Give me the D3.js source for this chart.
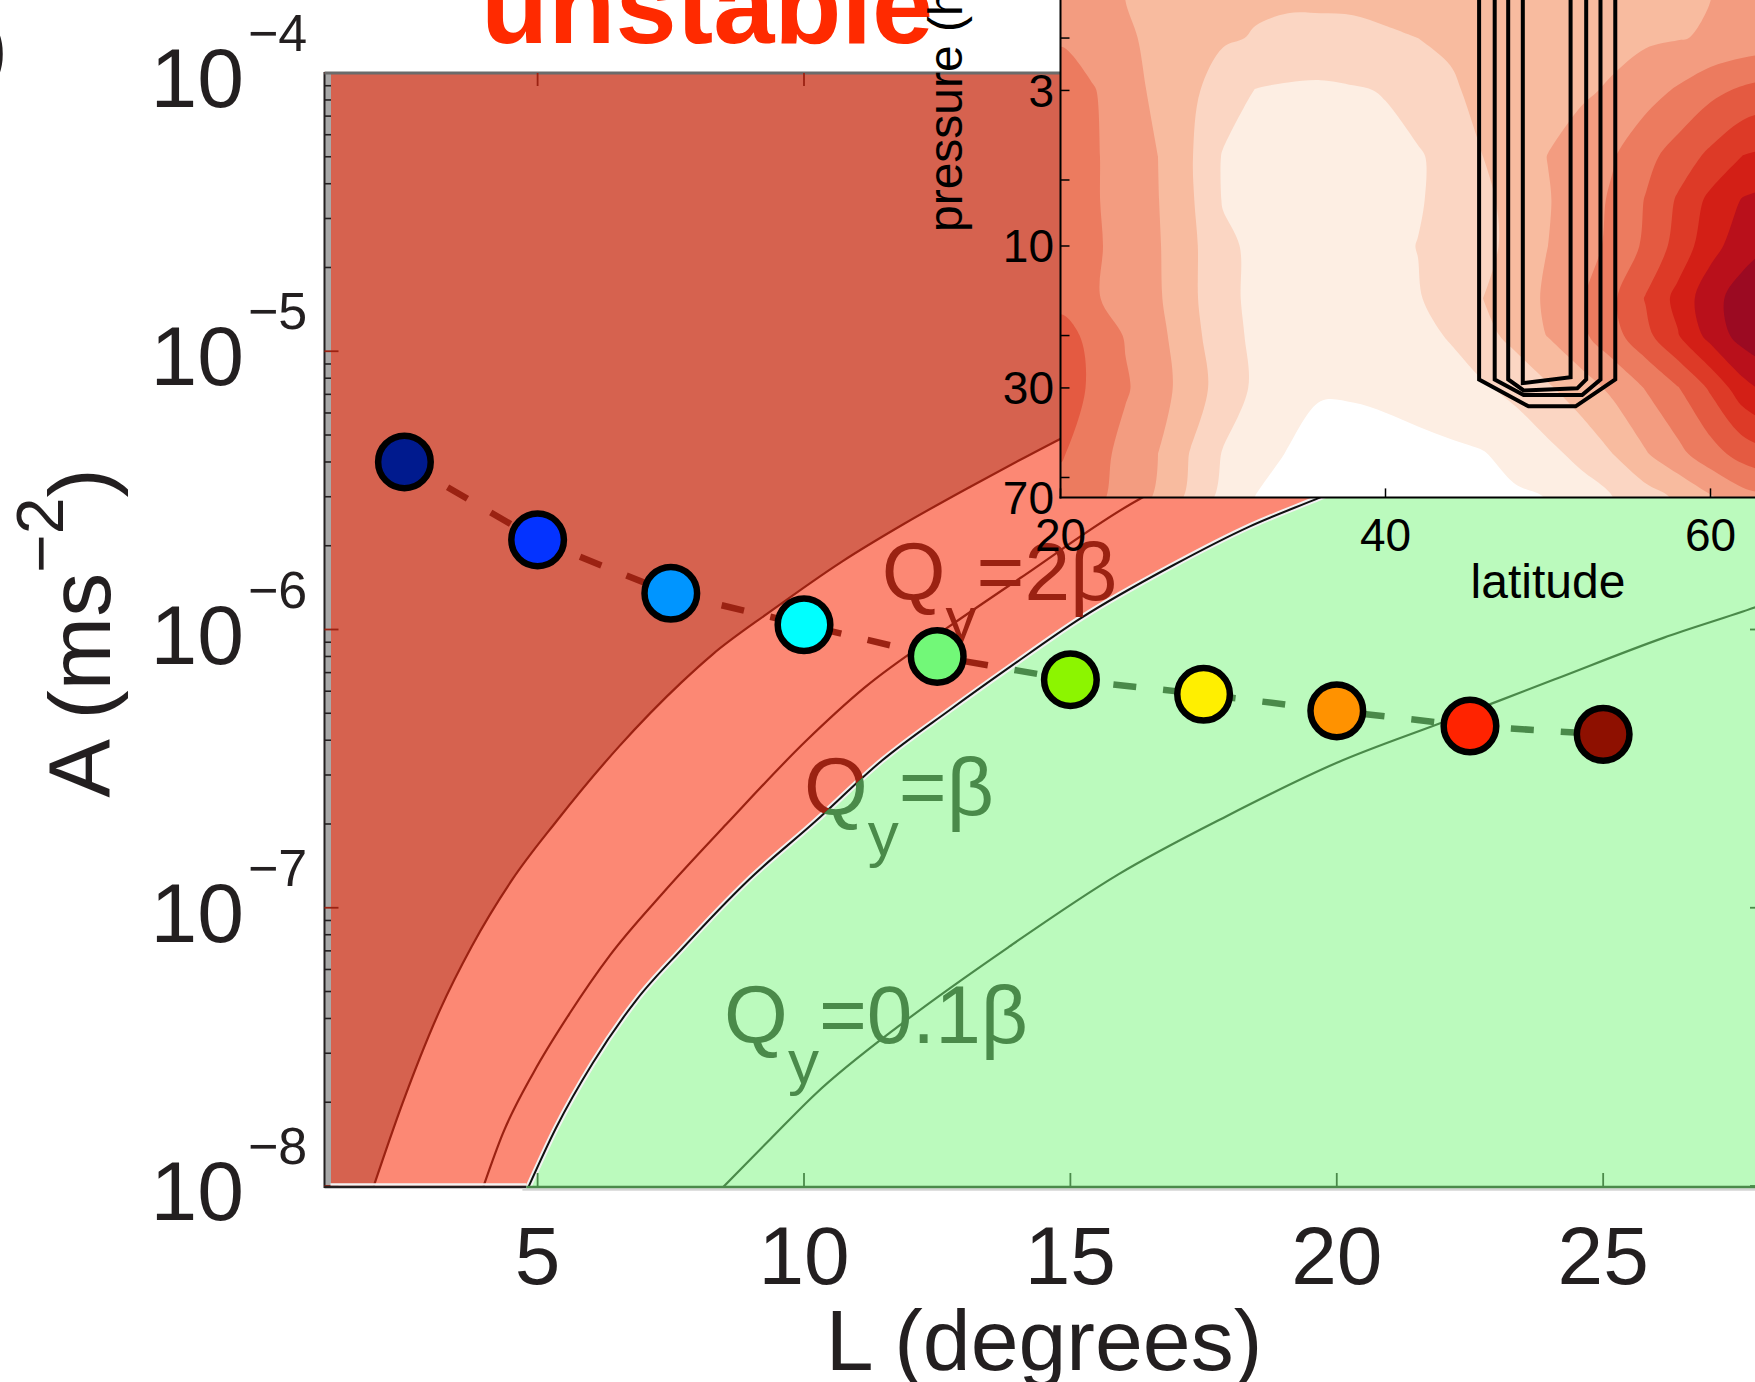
<!DOCTYPE html>
<html>
<head>
<meta charset="utf-8">
<script src="https://cdn.jsdelivr.net/npm/d3@7"></script>
<style>
  html, body { margin: 0; padding: 0; background: #fff; overflow: hidden; }
  text { font-family: "Liberation Sans", Arial, Helvetica, sans-serif; }
</style>
</head>
<body>
<svg id="chart" width="1755" height="1382"></svg>
<script>
// ------------------------------------------------------------------
// Jet experiments: forcing amplitude A versus jet width L
// ------------------------------------------------------------------
const jetWidth   = [2.5, 5, 7.5, 10, 12.5, 15, 17.5, 20, 22.5, 25];                 // L (degrees)
const jetForcing = [4.0e-6, 2.1e-6, 1.35e-6, 1.04e-6, 8.0e-7, 6.6e-7, 5.85e-7, 5.1e-7, 4.5e-7, 4.2e-7]; // A (m s^-2)
const jetColors  = ["#001a8e", "#0433ff", "#0095ff", "#00ffff", "#72f878",
                    "#8cf500", "#ffef00", "#ff9200", "#ff2300", "#8e1000"];

// Contours of the PV gradient in the (L, log10 A) plane
const contourOuter = [[1.89,-8.02],[2.46,-7.705],[3.17,-7.366],[3.76,-7.14],[4.52,-6.90],[5.35,-6.69],
                      [6.53,-6.42],[7.70,-6.19],[8.28,-6.09],[9.37,-5.935],[10.72,-5.755],[11.88,-5.62],
                      [13.14,-5.485],[14.06,-5.39],[14.81,-5.315],[15.5,-5.25]];
const contourTwoBeta = [[3.95,-8.02],[4.35,-7.81],[4.93,-7.59],[5.60,-7.38],[6.36,-7.17],[7.36,-6.945],
                        [8.54,-6.70],[10.04,-6.40],[11.13,-6.21],[12.72,-5.99],[14.06,-5.815],[16.31,-5.53],[17.5,-5.42]];
const contourZero = [[4.79,-8.02],[5.35,-7.79],[6.03,-7.56],[6.86,-7.33],[7.70,-7.15],[8.96,-6.90],
                     [10.21,-6.69],[11.47,-6.47],[12.73,-6.29],[13.90,-6.13],[15.19,-5.96],[16.92,-5.77],
                     [18.36,-5.63],[19.69,-5.525],[21.0,-5.42]];
const contourTenth = [[8.40,-8.02],[9.375,-7.83],[10.21,-7.67],[11.88,-7.41],[13.85,-7.14],[15.90,-6.88],
                      [17.94,-6.67],[19.99,-6.48],[22.04,-6.33],[24.08,-6.18],[26.13,-6.03],[27.86,-5.92],[28.3,-5.89]];

const xTicks = [5, 10, 15, 20, 25];
const yTickExponents = [-4, -5, -6, -7, -8];

// ------------------------------------------------------------------
// Inset: latitude-pressure field
// ------------------------------------------------------------------
const insetLat = [20,22,24,26,28,30,32,34,36,38,40,42,44,46,48,50,52,54,56,58,60,62,64,66];
const insetPressure = [1.5, 2, 3, 5, 7, 10, 15, 20, 30, 50, 70];   // hPa
const insetField = [
  [4.6,4.3,4.0,3.7,3.4,3.2,3.1,3.05,3.05,3.05,3.1,3.15,3.2,3.3,3.4,3.5,3.6,3.7,3.8,3.9,4.0,4.1,4.2,4.3],
  [4.9,4.5,4.15,3.75,3.35,3.1,2.95,2.9,2.9,2.92,2.95,3.0,3.1,3.2,3.3,3.4,3.55,3.7,3.85,3.95,4.1,4.3,4.4,4.5],
  [5.5,5.07,4.41,3.77,3.2,2.54,1.97,1.84,1.78,1.9,2.06,2.49,2.91,3.18,3.4,3.62,3.84,4.13,4.61,5.12,5.73,6.17,6.49,6.8],
  [5.7,5.12,4.56,4.0,3.09,1.93,1.7,1.42,1.25,1.47,1.68,1.9,2.35,3.0,3.51,4.02,4.48,4.93,5.69,6.45,7.23,8.03,8.27,8.5],
  [5.7,5.12,4.57,4.03,3.14,1.94,1.7,1.45,1.2,1.44,1.68,1.92,2.31,2.79,3.33,3.94,4.51,5.14,6.05,7.12,8.25,9.07,9.33,9.6],
  [5.6,5.16,4.64,4.08,3.23,2.21,1.8,1.55,1.3,1.54,1.77,2.02,2.39,2.76,3.26,4.0,4.57,5.23,6.18,7.38,8.63,9.58,10.1,10.3],
  [5.7,5.12,4.61,4.12,3.23,2.24,1.8,1.53,1.27,1.4,1.67,1.93,2.43,3.0,3.56,4.14,4.86,5.84,7.06,8.31,9.65,10.47,10.7,10.5],
  [6.4,5.72,4.93,4.27,3.37,2.33,1.83,1.58,1.33,1.32,1.55,1.79,2.06,2.67,3.32,4.04,4.78,5.64,6.71,7.94,9.36,10.42,10.7,10.5],
  [6.5,5.85,5.11,4.39,3.53,2.55,1.84,1.45,1.05,1.1,1.3,1.49,1.69,1.89,2.27,2.88,3.52,4.22,5.05,5.95,7.15,8.64,9.5,9.6],
  [6.1,5.45,4.67,4.0,2.95,1.94,1.39,0.95,0.8,0.65,0.5,0.65,0.8,0.95,1.3,1.73,2.27,3.0,3.91,4.72,5.59,6.4,6.8,6.9],
  [5.6,5.22,4.68,3.84,2.76,1.71,0.98,0.81,0.64,0.47,0.3,0.44,0.58,0.72,0.87,1.02,1.51,2.0,2.56,3.15,3.89,4.6,5.1,5.4]
];
const insetLevels = [1, 2, 3, 4, 5, 6, 7, 8, 9, 10];
const insetColors = ["#ffffff", "#fdeee3", "#fbd6c3", "#f8bb9f", "#f39c80", "#ec7b5f",
                     "#e45a41", "#dd3a27", "#d31f16", "#b9101b", "#9b0a22"];
// nested contours of the imposed jet forcing, as [latitude, pressure]
const forcingContours = [
  [[45.76,1],[45.76,28.1],[48.8,34.6],[51.7,34.6],[54.14,28.1],[54.14,1]],
  [[46.72,1],[46.72,28.1],[48.5,31.7],[52.1,31.7],[53.23,28.1],[53.23,1]],
  [[47.55,1],[47.55,28.1],[48.5,30.6],[51.8,30.1],[52.35,28.1],[52.35,1]],
  [[48.45,1],[48.45,28.9],[51.39,27.6],[51.39,1]]
];
const insetLatTicks = [20, 40, 60];
const insetPressureTicks = [2, 3, 6, 10, 20, 30, 60];
const insetPressureLabels = [3, 10, 30, 70];

// ------------------------------------------------------------------
const RED_LINE = "#9b2212";
const GREEN_LINE = "#4a8a4a";
const INK = "#231f20";

const svg = d3.select("#chart");
svg.append("rect").attr("width", 1755).attr("height", 1382).attr("fill", "#fff");
const defs = svg.append("defs");

const x = d3.scaleLinear().domain([1, 28]).range([324.5, 1763]);
const y = d3.scaleLog().domain([1e-8, 1e-4]).range([1186, 73]);
const [px0, px1] = x.range();
const [py1, py0] = y.range();

const toXY = d => [x(d[0]), y(Math.pow(10, d[1]))];
const curve = d3.line().curve(d3.curveMonotoneX);
const linePath = pts => curve(pts.map(toXY));

// closed region lying to the lower right of a contour line
function regionPath(pts, topLog) {
  const p = pts.map(toXY);
  const last = pts[pts.length - 1];
  const extra = [[x(last[0]), y(Math.pow(10, topLog))], [px1 + 20, y(Math.pow(10, topLog))],
                 [px1 + 20, py1 + 20], [p[0][0], py1 + 20]];
  return curve(p) + extra.map(e => "L" + e[0] + "," + e[1]).join("") + "Z";
}

const unstableFill = regionPath(contourOuter, -4.95);
const stablePath = regionPath(contourZero, -5.3);
const plotRect = `M${px0},${py0}H${px1}V${py1}H${px0}Z`;

defs.append("clipPath").attr("id", "plotClip")
  .append("rect").attr("x", px0).attr("y", py0).attr("width", px1 - px0).attr("height", py1 - py0);
defs.append("clipPath").attr("id", "stableClip").append("path").attr("d", stablePath);
defs.append("clipPath").attr("id", "unstableClip")
  .append("path").attr("d", plotRect + stablePath).attr("clip-rule", "evenodd");

const plot = svg.append("g").attr("clip-path", "url(#plotClip)");
plot.append("rect").attr("x", px0).attr("y", py0).attr("width", px1 - px0).attr("height", py1 - py0)
  .attr("fill", "#d6624f");
plot.append("path").attr("d", unstableFill).attr("fill", "#fc8874");
plot.append("path").attr("d", stablePath).attr("fill", "#bbfabd");

// contour lines
plot.append("path").attr("d", linePath(contourOuter)).attr("fill", "none").attr("stroke", RED_LINE).attr("stroke-width", 2.2);
plot.append("path").attr("d", linePath(contourTwoBeta)).attr("fill", "none").attr("stroke", RED_LINE).attr("stroke-width", 2.2);
plot.append("path").attr("d", linePath(contourTenth)).attr("fill", "none").attr("stroke", GREEN_LINE).attr("stroke-width", 2.2);
plot.append("path").attr("d", linePath(contourZero)).attr("fill", "none").attr("stroke", "#f2f2f2").attr("stroke-width", 6);
plot.append("path").attr("d", linePath(contourZero)).attr("fill", "none").attr("stroke", "#111").attr("stroke-width", 2);

// contour annotations, coloured by the region they sit in
const annotations = [
  { L: 11.46, A: 1.28e-6, tail: "=2β" },
  { L: 10.0,  A: 2.15e-7, tail: "=β" },
  { L: 8.5,   A: 3.27e-8, tail: "=0.1β" }
];
[["unstableClip", RED_LINE], ["stableClip", GREEN_LINE]].forEach(([clip, color]) => {
  const g = plot.append("g").attr("clip-path", `url(#${clip})`);
  annotations.forEach(a => {
    const t = g.append("text").attr("x", x(a.L)).attr("y", y(a.A)).attr("fill", color).attr("font-size", 82);
    t.append("tspan").text("Q");
    t.append("tspan").attr("font-size", 62).attr("dy", 40).text("y");
    t.append("tspan").attr("dy", -40).text(a.tail);
  });
});

// dashed connector through the experiments
const pts = jetWidth.map((L, i) => [x(L), y(jetForcing[i])]);
[["unstableClip", RED_LINE], ["stableClip", GREEN_LINE]].forEach(([clip, color]) => {
  plot.append("path").attr("clip-path", `url(#${clip})`)
    .attr("d", d3.line()(pts)).attr("fill", "none").attr("stroke", color)
    .attr("stroke-width", 6.5).attr("stroke-dasharray", "23,27");
});
plot.selectAll("circle.exp").data(pts).join("circle").attr("class", "exp")
  .attr("cx", d => d[0]).attr("cy", d => d[1]).attr("r", 26.3)
  .attr("fill", (d, i) => jetColors[i]).attr("stroke", "#000").attr("stroke-width", 6.5);

// ---------------- axes of the main panel ----------------
const ax = svg.append("g");
// left edge band with log ticks
ax.append("rect").attr("x", px0).attr("y", py0).attr("width", 6.5).attr("height", py1 - py0).attr("fill", "#a8a8a8");
ax.append("line").attr("x1", px0).attr("x2", px0).attr("y1", py0 - 1).attr("y2", py1 + 2).attr("stroke", INK).attr("stroke-width", 2);
const minorTicks = [];
for (let e = -8; e < -4; e++) for (let k = 2; k <= 9; k++) minorTicks.push(k * Math.pow(10, e));
ax.selectAll("line.ymin").data(minorTicks).join("line").attr("class", "ymin")
  .attr("x1", px0).attr("x2", px0 + 6.5).attr("y1", d => y(d)).attr("y2", d => y(d))
  .attr("stroke", INK).attr("stroke-width", 1.6);
ax.selectAll("line.ymaj").data(yTickExponents).join("line").attr("class", "ymaj")
  .attr("x1", px0).attr("x2", px0 + 14).attr("y1", d => y(Math.pow(10, d))).attr("y2", d => y(Math.pow(10, d)))
  .attr("stroke", RED_LINE).attr("stroke-width", 1.8);
// right edge ticks
ax.selectAll("line.yright").data(yTickExponents).join("line").attr("class", "yright")
  .attr("x1", px1 - 13).attr("x2", px1).attr("y1", d => y(Math.pow(10, d))).attr("y2", d => y(Math.pow(10, d)))
  .attr("stroke", GREEN_LINE).attr("stroke-width", 1.8);
// top border and ticks
ax.append("line").attr("x1", px0).attr("x2", px1).attr("y1", py0).attr("y2", py0).attr("stroke", "#6b6b6b").attr("stroke-width", 3);
ax.selectAll("line.xtop").data(xTicks).join("line").attr("class", "xtop")
  .attr("x1", d => x(d)).attr("x2", d => x(d)).attr("y1", py0).attr("y2", py0 + 13)
  .attr("stroke", RED_LINE).attr("stroke-width", 1.8);
// bottom border: dark under the unstable fill, green under the stable one
const xEdge = x(contourZero[0][0]);
ax.append("line").attr("x1", px0 + 6).attr("x2", xEdge).attr("y1", py1 - 1.5).attr("y2", py1 - 1.5).attr("stroke", "#f4f4f4").attr("stroke-width", 2.5);
ax.append("line").attr("x1", px0).attr("x2", xEdge).attr("y1", py1 + 1).attr("y2", py1 + 1).attr("stroke", INK).attr("stroke-width", 2.5);
ax.append("line").attr("x1", xEdge - 4).attr("x2", px1).attr("y1", py1 + 3.5).attr("y2", py1 + 3.5).attr("stroke", "#d4d4d4").attr("stroke-width", 2.5);
ax.append("line").attr("x1", xEdge).attr("x2", px1).attr("y1", py1 + 1).attr("y2", py1 + 1).attr("stroke", GREEN_LINE).attr("stroke-width", 2.5);
ax.selectAll("line.xbot").data(xTicks).join("line").attr("class", "xbot")
  .attr("x1", d => x(d)).attr("x2", d => x(d)).attr("y1", py1).attr("y2", py1 - 13)
  .attr("stroke", GREEN_LINE).attr("stroke-width", 1.8);

// tick labels
ax.selectAll("text.xlab").data(xTicks).join("text").attr("class", "xlab")
  .attr("x", d => x(d)).attr("y", 1284).attr("text-anchor", "middle")
  .attr("font-size", 82).attr("fill", INK).text(d => d);
yTickExponents.forEach(e => {
  const yy = y(Math.pow(10, e));
  ax.append("text").attr("x", 244).attr("y", yy + 34).attr("text-anchor", "end")
    .attr("font-size", 84).attr("fill", INK).text("10");
  ax.append("text").attr("x", 248).attr("y", yy - 22).attr("text-anchor", "start")
    .attr("font-size", 52).attr("fill", INK).text("\u2212" + Math.abs(e));
});

// axis titles
svg.append("text").attr("x", 1044).attr("y", 1370).attr("text-anchor", "middle")
  .attr("font-size", 86).attr("fill", INK).text("L (degrees)");
const yt = svg.append("text").attr("transform", "translate(110,633) rotate(-90)")
  .attr("text-anchor", "middle").attr("font-size", 88).attr("fill", INK);
yt.append("tspan").text("A (ms");
yt.append("tspan").attr("font-size", 66).attr("dy", -47).text("\u22122");
yt.append("tspan").attr("dy", 47).text(")");

svg.append("text").attr("x", 8).attr("y", 76).attr("text-anchor", "end")
  .attr("font-size", 84).attr("fill", INK).text(")");

svg.append("text").attr("x", 481).attr("y", 42.7).attr("font-size", 110).attr("font-weight", "bold")
  .attr("fill", "#ff2a00").text("unstable");

// ---------------- inset ----------------
const lat = d3.scaleLinear().domain([20, 65]).range([1060.5, 1791.75]);
const pres = d3.scaleLog().domain([1, 70]).range([-51.5, 497.4]);
const ix0 = lat(20), iy1 = pres(70);

defs.append("clipPath").attr("id", "insetClip")
  .append("rect").attr("x", ix0).attr("y", -200).attr("width", 900).attr("height", iy1 + 200);

const inset = svg.append("g");
const field = inset.append("g").attr("clip-path", "url(#insetClip)");
field.append("rect").attr("x", ix0).attr("y", -200).attr("width", 900).attr("height", iy1 + 200).attr("fill", insetColors[0]);

const nx = insetLat.length, ny = insetPressure.length;
const logP = insetPressure.map(Math.log10);
const dLat = insetLat[1] - insetLat[0];
// grid coordinates (cell centres at +0.5) -> screen, log-pressure between levels
function gridToScreen(gx, gy) {
  const la = insetLat[0] + (gx - 0.5) * dLat;
  const r = gy - 0.5;
  const i = Math.max(0, Math.min(ny - 2, Math.floor(r)));
  const lp = logP[i] + (r - i) * (logP[i + 1] - logP[i]);
  return [lat(la), pres(Math.pow(10, lp))];
}
const ringLine = d3.line().curve(d3.curveCatmullRomClosed.alpha(0.5));
function bandPath(geom) {
  let d = "";
  geom.coordinates.forEach(poly => poly.forEach(ring => {
    const sp = ring.slice(0, -1).map(p => gridToScreen(p[0], p[1]));
    if (sp.length > 2) d += ringLine(sp);
  }));
  return d;
}
const bands = d3.contours().size([nx, ny]).thresholds(insetLevels)(insetField.flat());
field.selectAll("path.band").data(bands).join("path").attr("class", "band")
  .attr("d", bandPath).attr("fill-rule", "evenodd").attr("fill", d => insetColors[d.value]);

const fl = d3.line().x(d => lat(d[0])).y(d => pres(d[1]));
field.selectAll("path.forcing").data(forcingContours).join("path").attr("class", "forcing")
  .attr("d", fl).attr("fill", "none").attr("stroke", "#000").attr("stroke-width", 4);

// inset axes
inset.append("line").attr("x1", ix0).attr("x2", ix0).attr("y1", -10).attr("y2", iy1 + 1).attr("stroke", "#000").attr("stroke-width", 2);
inset.append("line").attr("x1", ix0 - 1).attr("x2", 1800).attr("y1", iy1).attr("y2", iy1).attr("stroke", "#000").attr("stroke-width", 2);
inset.selectAll("line.pt").data(insetPressureTicks).join("line").attr("class", "pt")
  .attr("x1", ix0).attr("x2", ix0 + 9).attr("y1", d => pres(d)).attr("y2", d => pres(d))
  .attr("stroke", "#000").attr("stroke-width", 1.5);
inset.selectAll("line.lt").data(insetLatTicks).join("line").attr("class", "lt")
  .attr("x1", d => lat(d)).attr("x2", d => lat(d)).attr("y1", iy1).attr("y2", iy1 - 9)
  .attr("stroke", "#000").attr("stroke-width", 1.5);
inset.selectAll("text.pl").data(insetPressureLabels).join("text").attr("class", "pl")
  .attr("x", 1054).attr("y", d => pres(d) + 16.5).attr("text-anchor", "end")
  .attr("font-size", 46).attr("fill", "#000").text(d => d);
inset.selectAll("text.ll").data(insetLatTicks).join("text").attr("class", "ll")
  .attr("x", d => lat(d)).attr("y", 551).attr("text-anchor", "middle")
  .attr("font-size", 46).attr("fill", "#000").text(d => d);
inset.append("text").attr("x", 1548).attr("y", 598).attr("text-anchor", "middle")
  .attr("font-size", 48).attr("fill", "#000").text("latitude");
inset.append("text").attr("transform", "translate(962,232) rotate(-90)")
  .attr("font-size", 48).attr("fill", "#000").text("pressure (hPa)");
</script>
</body>
</html>
